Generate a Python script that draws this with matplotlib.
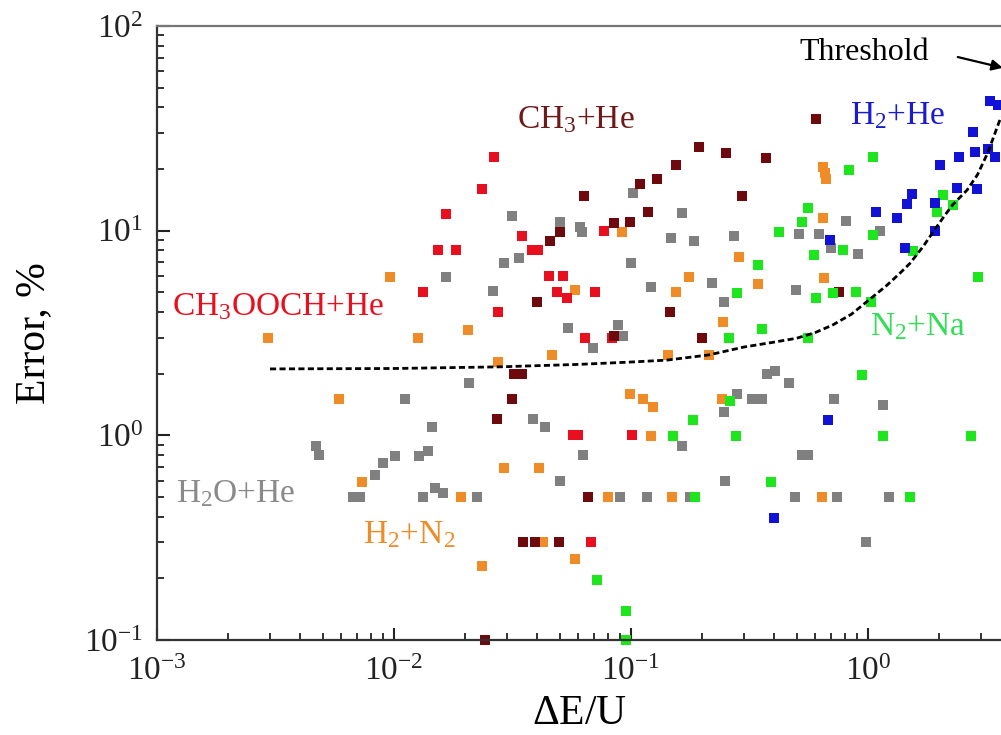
import matplotlib
matplotlib.use("Agg")
import matplotlib.pyplot as plt

plt.rcParams['font.family'] = ['Liberation Serif', 'DejaVu Serif']
plt.rcParams['mathtext.fontset'] = 'custom'
plt.rcParams['mathtext.rm'] = 'Liberation Serif'
plt.rcParams['mathtext.it'] = 'Liberation Serif:italic'
plt.rcParams['axes.unicode_minus'] = False

# CH3OOCH+He
x_red = [0.0264, 0.0235, 0.0166, 0.0154, 0.0183, 0.0132, 0.0347, 0.0382, 0.0406, 0.0451, 0.0516,
         0.0488, 0.0537, 0.0705, 0.0275, 0.064, 0.0769, 0.0832, 0.057, 0.060, 0.068, 0.101]
y_red = [23, 16, 12, 8, 8, 5, 9.4, 8, 8, 6, 6,
         5, 4.7, 5, 4, 3, 10, 3, 1, 1, 0.3, 1]

# CH3+He
x_dred = [0.0634, 0.0501, 0.0455, 0.0401, 0.604, 0.194, 0.252, 0.372, 0.155, 0.129, 0.109, 0.294,
          0.118, 0.0847, 0.099, 0.146, 0.0847, 0.2, 0.755, 0.0321, 0.0347, 0.0315, 0.0272, 0.0659,
          0.035, 0.0394, 0.0497, 0.0242]
y_dred = [14.8, 9.9, 8.9, 4.5, 35, 25.6, 24, 22.6, 20.9, 17.9, 16.9, 14.8,
          12.3, 10.9, 11, 4.0, 3.06, 3.0, 5.0, 2.0, 2.0, 1.5, 1.2, 0.5,
          0.3, 0.3, 0.3, 0.1]

# H2O+He
x_gray = [0.0207, 0.0111, 0.01445, 0.00469, 0.00483, 0.009, 0.0101, 0.0127, 0.0139, 0.0083,
          0.00672, 0.0072, 0.0132, 0.0149, 0.0161, 0.0224, 0.0385, 0.0434, 0.0626, 0.0501,
          0.0899, 0.117, 0.164, 0.177, 0.247, 0.249, 0.28, 0.324, 0.357, 0.465,
          0.375, 0.406, 0.492, 0.527, 0.558, 0.72, 0.74, 1.157, 1.23, 0.98,
          0.0315, 0.0501, 0.061, 0.0624, 0.0336, 0.0291, 0.01655, 0.0262, 0.0542, 0.0692,
          0.102, 0.164, 0.148, 0.185, 0.272, 0.1, 0.121, 0.22, 0.247, 0.497,
          0.51, 0.621, 0.0881, 0.0925, 0.807, 0.698, 0.908, 1.12]
y_gray = [1.8, 1.5, 1.1, 0.89, 0.8, 0.73, 0.79, 0.79, 0.84, 0.64,
          0.5, 0.5, 0.5, 0.55, 0.52, 0.5, 1.2, 1.1, 0.8, 0.6,
          0.5, 0.5, 0.89, 0.5, 1.3, 0.6, 1.6, 1.5, 1.5, 1.8,
          2.0, 2.05, 0.5, 0.8, 0.8, 1.5, 0.5, 1.4, 0.5, 0.3,
          11.8, 11, 10.4, 9.9, 7.35, 6.95, 5.94, 5.07, 3.35, 2.67,
          15.3, 12.2, 9.2, 8.9, 9.4, 6.95, 5.3, 5.55, 4.5, 5.13,
          9.64, 9.64, 3.46, 3.06, 11.1, 8.2, 7.7, 10]

# H2+N2
x_orange = [0.00962, 0.00294, 0.0126, 0.0205, 0.0275, 0.00586, 0.00733, 0.0192, 0.0235, 0.0291,
            0.0409, 0.0426, 0.0581, 0.08, 0.0465, 0.0581, 0.0916, 0.176, 0.155, 0.286,
            0.344, 0.244, 0.143, 0.213, 0.646, 0.659, 0.665, 0.646, 0.652, 0.099,
            0.112, 0.124, 0.121, 0.149, 0.243, 0.64]
y_orange = [5.94, 3.0, 3.0, 3.27, 2.28, 1.5, 0.59, 0.5, 0.23, 0.69,
            0.69, 0.3, 0.25, 0.5, 2.47, 5.13, 9.86, 5.94, 5.02, 7.44,
            5.49, 3.58, 2.47, 2.47, 20.5, 19.1, 17.9, 11.5, 5.87, 1.59,
            1.5, 1.38, 0.99, 0.5, 1.5, 0.5]

# N2+Na
x_green = [0.558, 0.527, 0.421, 0.592, 0.344, 0.28, 0.604, 0.357, 0.26, 0.558,
           1.05, 0.832, 0.785, 0.889, 0.711, 1.05, 2.07, 1.95, 2.28, 1.55,
           2.91, 1.03, 0.183, 0.15, 0.277, 0.39, 0.187, 0.072, 0.0953, 0.0953,
           0.262, 0.944, 1.157, 2.72, 1.50]
y_green = [12.9, 11.0, 9.86, 7.61, 6.8, 4.96, 4.69, 3.31, 3.0, 3.0,
           22.9, 19.8, 8.05, 5.02, 4.96, 9.53, 14.9, 12.3, 13.4, 7.96,
           5.94, 4.49, 1.19, 0.99, 0.99, 0.59, 0.5, 0.197, 0.139, 0.1,
           1.47, 1.97, 0.99, 0.99, 0.5]

# H2+He
x_blue = [3.27, 3.54, 2.77, 2.42, 2.83, 3.21, 3.43, 2.01, 2.38, 2.88,
          1.53, 1.46, 1.92, 1.08, 1.32, 1.92, 0.692, 1.43, 0.678, 0.401]
y_blue = [43, 41, 30.4, 22.9, 24.2, 25.1, 22.9, 20.9, 16.2, 16,
          15.1, 13.5, 13.6, 12.3, 11.5, 10.0, 9.0, 8.2, 1.19, 0.395]

# threshold curve, points
x_thr = [0.003, 0.01, 0.028, 0.06, 0.1, 0.142, 0.213, 0.3, 0.4, 0.5, 0.6, 0.71, 0.85, 0.99,
         1.2, 1.365, 1.5, 1.7, 1.9, 2.1, 2.28, 2.62, 2.9, 3.2, 3.4, 3.64]
y_thr = [2.11, 2.12, 2.16, 2.22, 2.28, 2.33, 2.47, 2.7, 2.85, 2.98, 3.18, 3.46, 3.9, 4.5,
         5.4, 6.2, 6.9, 8.3, 10.0, 11.8, 13.4, 15.8, 18.8, 24, 29, 36]

fig = plt.figure(figsize=(10.01, 7.35), dpi=100)
ax = fig.add_axes([0.1568, 0.1293, 0.8432, 0.8354])

ax.set_xscale('log')
ax.set_yscale('log')
ax.set_xlim(1e-3, 3.64)
ax.set_ylim(0.1, 100)

ms = 7
ax.plot(x_gray, y_gray, 's', color='#808080', ms=ms, mew=0, clip_on=False)
ax.plot(x_orange, y_orange, 's', color='#f08c28', ms=ms, mew=0, clip_on=False)
ax.plot(x_red, y_red, 's', color='#e8101e', ms=ms, mew=0, clip_on=False)
ax.plot(x_dred, y_dred, 's', color='#6e0a0e', ms=ms, mew=0, clip_on=False)
ax.plot(x_green, y_green, 's', color='#1ee61e', ms=ms, mew=0, clip_on=False)
ax.plot(x_blue, y_blue, 's', color='#1212d6', ms=ms, mew=0, clip_on=False)

ax.plot(x_thr, y_thr, color='black', lw=2, linestyle=(0, (2.2, 1.2)))

lab = 24
ax.text(0.00116, 3.87, 'CH$_3$OOCH+He', color='#e8101e', fontsize=lab)
ax.text(0.0331, 31.8, 'CH$_3$+He', color='#6e1a1a', fontsize=lab)
ax.text(0.84, 33, 'H$_2$+He', color='#1a1ad0', fontsize=lab)
ax.text(1.02, 3.09, 'N$_2$+Na', color='#33dd55', fontsize=lab)
ax.text(0.0012, 0.473, 'H$_2$O+He', color='#8a8a8a', fontsize=lab)
ax.text(0.0074, 0.298, 'H$_2$+N$_2$', color='#f08c28', fontsize=lab)
ax.text(0.516, 68, 'Threshold', color='black', fontsize=23)
ax.annotate('', xy=(3.8, 62), xytext=(2.33, 71),
            arrowprops=dict(arrowstyle='-|>', color='black', lw=1.6, mutation_scale=16),
            annotation_clip=False)

ax.set_xlabel(r'$\Delta$E/U', fontsize=30, labelpad=5)
ax.set_ylabel('Error, %', fontsize=30, labelpad=22)

ax.tick_params(axis='both', which='both', direction='in', labelsize=24, colors='#222222',
               top=False, right=False)
ax.tick_params(which='major', length=9, width=1.5)
ax.tick_params(axis='y', which='major', pad=10)
ax.tick_params(axis='x', which='major', pad=12)
ax.tick_params(which='minor', length=5, width=1.3)
for s in ['left', 'bottom', 'top']:
    ax.spines[s].set_linewidth(1.6)
    ax.spines[s].set_color('#333333')
ax.spines['top'].set_color('#777777')
ax.spines['right'].set_visible(False)

fig.savefig('out.png', dpi=100)
